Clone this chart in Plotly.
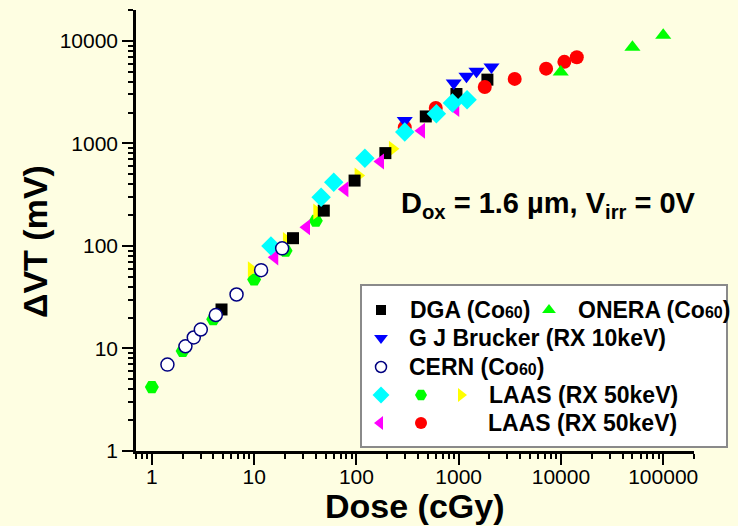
import plotly.graph_objects as go

# ---- measured threshold-voltage shift vs. dose, one list pair per source ----
dga_dose = [4.8, 24, 48, 96, 192, 477, 951, 1910]
dga_dvt = [24, 119, 221, 434, 804, 1832, 3034, 4186]

onera_dose = [9950, 50000, 100000]
onera_dvt = [4980, 8650, 11350]

brucker_dose = [297, 895, 1192, 1493, 2093]
brucker_dvt = [1675, 3884, 4511, 5047, 5572]

cern_dose = [1.42, 2.13, 2.57, 3.01, 4.22, 6.73, 11.7, 18.8]
cern_dvt = [6.96, 10.5, 12.8, 15.3, 21.2, 33.6, 58, 94.8]

laas_cyan_dose = [14.6, 45.2, 60.1, 121, 297, 605, 869, 1208]
laas_cyan_dvt = [100, 298, 419, 718, 1290, 1946, 2477, 2668]

laas_green_dose = [1, 2.0, 3.98, 10, 20.3, 40.1]
laas_green_dvt = [4.2, 9.45, 19.3, 47.1, 89.8, 176]

laas_yellow_dose = [9.4, 20.7, 41, 104, 225]
laas_yellow_dvt = [59, 114, 216, 485, 885]

laas_magenta_dose = [15.9, 32.5, 77.1, 172, 433, 937]
laas_magenta_dvt = [77.4, 152, 357, 666, 1328, 2163]

laas_red_dose = [297, 597, 1800, 3530, 7160, 10800, 14290]
laas_red_dvt = [1430, 2213, 3550, 4254, 5360, 6240, 6920]

x_tick_vals = [1, 10, 100, 1000, 10000, 100000]
x_tick_text = ["1", "10", "100", "1000", "10000", "100000"]
y_tick_vals = [1, 10, 100, 1000, 10000]
y_tick_text = ["1", "10", "100", "1000", "10000"]

BG = "#FEFEE2"
FONT = "Liberation Sans, Arial, sans-serif"

# plot area in pixels (for placing the hand-built legend)
W, H = 738, 526
L, R, T, B = 136, 44, 10, 75
PW, PH = W - L - R, H - T - B


def px(x):
    return (x - L) / PW


def py(y):
    return (H - B - y) / PH


styles = {
    "laas_green": dict(symbol="hexagon2", color="#00FF00", size=14, line=dict(width=0)),
    "laas_yellow": dict(symbol="triangle-right", color="#FFFF00", size=14, line=dict(width=0)),
    "dga": dict(symbol="square", color="#000000", size=12, line=dict(width=0)),
    "laas_red": dict(symbol="circle", color="#FF0000", size=14, line=dict(width=0)),
    "brucker": dict(symbol="triangle-down", color="#0000FF", size=14, line=dict(width=0)),
    "laas_magenta": dict(symbol="triangle-left", color="#FF00FF", size=14, line=dict(width=0)),
    "laas_cyan": dict(symbol="diamond", color="#00FFFF", size=15, line=dict(width=0)),
    "cern": dict(symbol="circle", color="#FFFFFF", size=13, line=dict(width=1.5, color="#000080")),
    "onera": dict(symbol="triangle-up", color="#00FF00", size=14, line=dict(width=0)),
}

series = [
    ("LAAS (RX 50keV)", laas_green_dose, laas_green_dvt, "laas_green"),
    ("LAAS (RX 50keV)", laas_yellow_dose, laas_yellow_dvt, "laas_yellow"),
    ("DGA (Co60)", dga_dose, dga_dvt, "dga"),
    ("LAAS (RX 50keV)", laas_red_dose, laas_red_dvt, "laas_red"),
    ("G J Brucker (RX 10keV)", brucker_dose, brucker_dvt, "brucker"),
    ("LAAS (RX 50keV)", laas_magenta_dose, laas_magenta_dvt, "laas_magenta"),
    ("LAAS (RX 50keV)", laas_cyan_dose, laas_cyan_dvt, "laas_cyan"),
    ("CERN (Co60)", cern_dose, cern_dvt, "cern"),
    ("ONERA (Co60)", onera_dose, onera_dvt, "onera"),
]

fig = go.Figure()
for name, xs, ys, key in series:
    fig.add_trace(go.Scatter(
        x=xs, y=ys, mode="markers", name=name, showlegend=False,
        marker=styles[key], cliponaxis=False,
    ))

# ---- custom legend: box, glyphs and labels ----
box = dict(x0=361, x1=727, y0=285, y1=447)
fig.add_shape(type="rect", xref="paper", yref="paper",
              x0=px(box["x0"]), x1=px(box["x1"]), y0=py(box["y1"]), y1=py(box["y0"]),
              fillcolor="white", line=dict(color="#8A8A8A", width=2), layer="below")

small = "<span style='font-size:16px'>60</span>"
legend_glyphs = [
    ("dga", 381, 310), ("onera", 549, 310),
    ("brucker", 381, 338),
    ("cern", 381, 367),
    ("laas_cyan", 381, 395), ("laas_green", 421, 395), ("laas_yellow", 461, 395),
    ("laas_magenta", 380, 423), ("laas_red", 421, 423),
]
legend_labels = [
    ("DGA (Co" + small + ")", 408, 310),
    ("ONERA (Co" + small + ")", 576, 310),
    ("G J Brucker (RX 10keV)", 407, 338),
    ("CERN (Co" + small + ")", 407, 367),
    ("LAAS (RX 50keV)", 487, 395),
    ("LAAS (RX 50keV)", 486, 423),
]

for key, gx, gy in legend_glyphs:
    st = dict(styles[key])
    st["size"] = max(st["size"] - 2, 10)
    fig.add_trace(go.Scatter(x=[px(gx)], y=[py(gy)], xaxis="x2", yaxis="y2",
                             mode="markers", marker=st, showlegend=False,
                             hoverinfo="skip", cliponaxis=False))

for text, lx, ly in legend_labels:
    fig.add_annotation(text=text, xref="paper", yref="paper", x=px(lx), y=py(ly),
                       xanchor="left", yanchor="middle", showarrow=False,
                       font=dict(family=FONT, size=23, color="black", weight="bold"))

# ---- condition label ----
fig.add_annotation(
    text="D<sub>ox</sub> = 1.6 µm, V<sub>irr</sub> = 0V",
    xref="paper", yref="paper", x=px(399), y=py(225), xanchor="left", yanchor="bottom",
    showarrow=False, font=dict(family=FONT, size=29, color="black", weight="bold"))

# ---- axis titles ----
fig.add_annotation(text="Dose (cGy)", xref="paper", yref="paper", x=px(415), y=py(506),
                   xanchor="center", yanchor="middle", showarrow=False,
                   font=dict(family=FONT, size=34, color="black", weight="bold"))
fig.add_annotation(text="ΔVT (mV)", xref="paper", yref="paper", x=px(35), y=py(242),
                   xanchor="center", yanchor="middle", showarrow=False, textangle=-90,
                   font=dict(family=FONT, size=34, color="black", weight="bold"))

axis_common = dict(
    type="log", showgrid=False, zeroline=False, showline=True,
    linecolor="black", linewidth=2.5, ticks="outside", ticklen=11, tickwidth=2,
    tickcolor="black", tickfont=dict(family=FONT, size=21, color="black"),
    minor=dict(ticks="outside", ticklen=5, tickwidth=1.5, tickcolor="black", dtick="D1"),
)

fig.update_layout(
    width=W, height=H,
    margin=dict(l=L, r=R, t=T, b=B, pad=0),
    paper_bgcolor=BG, plot_bgcolor=BG,
    xaxis=dict(axis_common, range=[-0.155, 5.301], tickvals=x_tick_vals,
               ticktext=x_tick_text, ticklabelstandoff=-6),
    yaxis=dict(axis_common, range=[0, 4.301], tickvals=y_tick_vals, ticktext=y_tick_text),
    xaxis2=dict(overlaying="x", range=[0, 1], visible=False, anchor="y2"),
    yaxis2=dict(overlaying="y", range=[0, 1], visible=False, anchor="x2"),
    showlegend=False,
)

fig.write_html("out.html")
